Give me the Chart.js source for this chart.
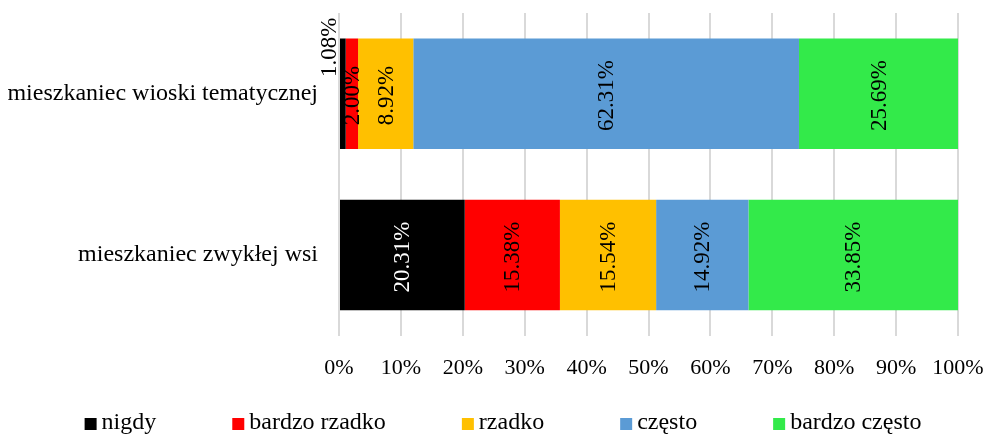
<!DOCTYPE html>
<html>
<head>
<meta charset="utf-8">
<script src="https://cdn.jsdelivr.net/npm/chart.js@4.4.1/dist/chart.umd.min.js"></script>
<style>
  html, body { margin: 0; padding: 0; background: #fff; overflow: hidden; }
  #wrap { width: 986px; height: 434px; }
</style>
</head>
<body>
<div id="wrap"><canvas id="chart"></canvas></div>
<script>
// Categories and answer shares (%)
const categories = ['mieszkaniec wioski tematycznej', 'mieszkaniec zwykłej wsi'];
const seriesNames = ['nigdy', 'bardzo rzadko', 'rzadko', 'często', 'bardzo często'];
const nigdy = [1.08, 20.31];
const bardzoRzadko = [2.00, 15.38];
const rzadko = [8.92, 15.54];
const czesto = [62.31, 14.92];
const bardzoCzesto = [25.69, 33.85];
const xTicks = [0, 10, 20, 30, 40, 50, 60, 70, 80, 90, 100];

const colors = ['#000000', '#FF0000', '#FFC000', '#5B9BD5', '#33EA4A'];
const FONT = '"Liberation Serif", "Times New Roman", serif';

// Writes each value vertically in the middle of its segment
const segmentLabels = {
    id: 'segmentLabels',
    afterDatasetsDraw(chart) {
        const ctx = chart.ctx;
        ctx.save();
        ctx.font = '23px ' + FONT;
        ctx.textAlign = 'center';
        ctx.textBaseline = 'middle';
        chart.data.datasets.forEach((ds, i) => {
            const meta = chart.getDatasetMeta(i);
            meta.data.forEach((bar, j) => {
                const v = ds.data[j];
                let cx = (bar.x + bar.base) / 2;
                let cy = bar.y + 2;
                // too thin to hold the text: put it left of the bar, near its top
                if (v < 1.5) {
                    cx = bar.base - 11;
                    cy = bar.y - bar.height / 2 + 9;
                }
                ctx.fillStyle = ds.backgroundColor === '#000000' && v >= 1.5 ? '#FFFFFF' : '#000000';
                ctx.save();
                ctx.translate(cx, cy);
                ctx.rotate(-Math.PI / 2);
                ctx.fillText(v.toFixed(2) + '%', 0, 1);
                ctx.restore();
            });
        });
        ctx.restore();
    }
};

// Legend row along the bottom edge: small square, then the series name
const bottomLegend = {
    id: 'bottomLegend',
    afterDraw(chart) {
        const ctx = chart.ctx;
        const box = 12, gap = 5, spacing = 76, midY = 423;
        ctx.save();
        ctx.font = '24px ' + FONT;
        ctx.textBaseline = 'middle';
        ctx.textAlign = 'left';
        const widths = chart.data.datasets.map(ds => box + gap + ctx.measureText(ds.label).width);
        const total = widths.reduce((a, b) => a + b, 0) + spacing * (widths.length - 1);
        let x = (chart.width - total) / 2 + 10;
        chart.data.datasets.forEach((ds, i) => {
            ctx.fillStyle = ds.backgroundColor;
            ctx.fillRect(x, midY - 5, box, box);
            ctx.fillStyle = '#000';
            ctx.fillText(ds.label, x + box + gap, midY);
            x += widths[i] + spacing;
        });
        ctx.restore();
    }
};

const values = [nigdy, bardzoRzadko, rzadko, czesto, bardzoCzesto];

const ctx = document.getElementById('chart').getContext('2d');
const chart = new Chart(ctx, {
    type: 'bar',
    data: {
        labels: categories,
        datasets: seriesNames.map((name, i) => ({
            label: name,
            data: values[i],
            backgroundColor: colors[i],
            borderWidth: 0,
            categoryPercentage: 1,
            barPercentage: 0.685
        }))
    },
    options: {
        indexAxis: 'y',
        responsive: true,
        maintainAspectRatio: false,
        animation: false,
        layout: { padding: { left: 7, right: 28, top: 13, bottom: 34 } },
        scales: {
            x: {
                stacked: true,
                min: 0,
                max: 100,
                afterBuildTicks: (scale) => { scale.ticks = xTicks.map(v => ({ value: v })); },
                afterFit: (scale) => {
                    scale.paddingLeft = 0;
                    scale.paddingRight = 0;
                },
                ticks: {
                    callback: (v) => v + '%',
                    color: '#000',
                    font: { family: FONT, size: 22 },
                    padding: 19,
                    maxRotation: 0
                },
                grid: { color: '#D9D9D9', lineWidth: 2, drawTicks: false },
                border: { display: false }
            },
            y: {
                stacked: true,
                afterFit: (scale) => {
                    scale.width = 332;
                    scale.paddingTop = 0;
                    scale.paddingBottom = 0;
                },
                ticks: {
                    color: '#000',
                    font: { family: FONT, size: 24 },
                    padding: 21
                },
                grid: { display: false, drawTicks: false },
                border: { display: false }
            }
        },
        plugins: {
            legend: { display: false },
            tooltip: { enabled: false }
        }
    },
    plugins: [segmentLabels, bottomLegend]
});
</script>
</body>
</html>
